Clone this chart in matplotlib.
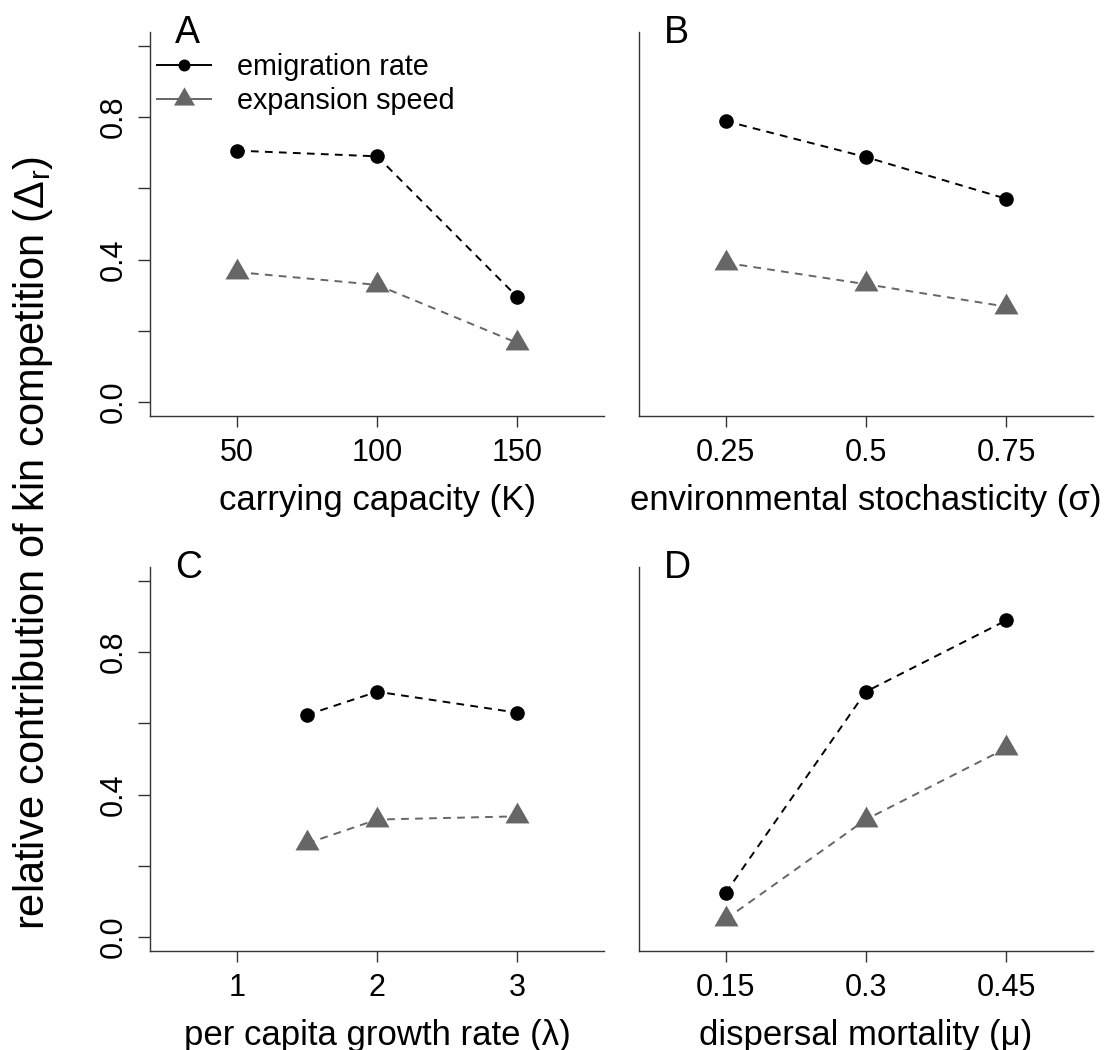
import matplotlib
matplotlib.use('Agg')
import matplotlib.pyplot as plt
from matplotlib.lines import Line2D

plt.rcParams['font.family'] = ['Liberation Sans', 'DejaVu Sans']
plt.rcParams['mathtext.fontset'] = 'custom'
plt.rcParams['mathtext.rm'] = 'Liberation Sans'
plt.rcParams['mathtext.it'] = 'Liberation Sans:italic'
plt.rcParams['mathtext.sf'] = 'Liberation Sans'

# ---- data ----
K_vals = [50, 100, 150]
K_emig = [0.706, 0.690, 0.295]
K_exp = [0.365, 0.329, 0.166]

sigma_vals = [0.25, 0.5, 0.75]
sigma_emig = [0.789, 0.688, 0.571]
sigma_exp = [0.391, 0.331, 0.268]

lambda_vals = [1.5, 2, 3]
lambda_emig = [0.624, 0.689, 0.630]
lambda_exp = [0.263, 0.330, 0.339]

mu_vals = [0.15, 0.3, 0.45]
mu_emig = [0.124, 0.689, 0.889]
mu_exp = [0.050, 0.330, 0.530]

panel_letters = ['A', 'B', 'C', 'D']
x_labels = ['carrying capacity (K)', 'environmental stochasticity (σ)',
            'per capita growth rate (λ)', 'dispersal mortality (μ)']
x_ticks = [[50, 100, 150], [0.25, 0.5, 0.75], [1, 2, 3], [0.15, 0.3, 0.45]]
x_ticklabels = [['50', '100', '150'], ['0.25', '0.5', '0.75'],
                ['1', '2', '3'], ['0.15', '0.3', '0.45']]
y_major = [0.0, 0.4, 0.8]
y_major_labels = ['0.0', '0.4', '0.8']
y_minor = [0.2, 0.6, 1.0]
series_names = ['emigration rate', 'expansion speed']
y_label = r'relative contribution of kin competition ($\Delta_{\mathrm{r}}$)'

panels = [(K_vals, K_emig, K_exp), (sigma_vals, sigma_emig, sigma_exp),
          (lambda_vals, lambda_emig, lambda_exp), (mu_vals, mu_emig, mu_exp)]
x_lims = [(19, 181), (0.095, 0.905), (0.38, 3.62), (0.057, 0.543)]

# ---- style ----
W, H = 1106, 1050
fig = plt.figure(figsize=(W / 100, H / 100), dpi=100)
PX = 0.72  # points per pixel at dpi 100

grey = '#666666'
axcol = '#333333'
tri = [(0, 1), (-0.8660254, -0.5), (0.8660254, -0.5), (0, 1)]

lefts = [150, 638.7, 150, 638.7]
tops = [31.7, 31.7, 566.7, 566.7]
aw, ah = 454.3, 384.6

for i, (xv, emig, exp_) in enumerate(panels):
    ax = fig.add_axes([lefts[i] / W, 1 - (tops[i] + ah) / H, aw / W, ah / H])
    ax.plot(xv, emig, color='black', lw=1.4, dashes=(4.0, 3.2),
            marker='o', ms=10.5, mfc='black', mec='black', mew=0, zorder=3)
    ax.plot(xv, exp_, color=grey, lw=1.4, dashes=(4.0, 3.2),
            marker=tri, ms=20.0, mfc=grey, mec=grey, mew=0, zorder=3)
    ax.set_xlim(*x_lims[i])
    ax.set_ylim(-0.04, 1.04)
    for s in ['top', 'right']:
        ax.spines[s].set_visible(False)
    for s in ['left', 'bottom']:
        ax.spines[s].set_color(axcol)
        ax.spines[s].set_linewidth(1.0)
    ax.set_xticks(x_ticks[i])
    ax.set_xticklabels(x_ticklabels[i], fontsize=22)
    ax.tick_params(axis='x', which='both', length=8.0, width=1.0, color=axcol, pad=7.5)
    if i in (0, 2):
        ax.set_yticks(y_major)
        ax.set_yticklabels(y_major_labels, fontsize=22, rotation=90, va='center')
        ax.set_yticks(y_minor, minor=True)
        ax.tick_params(axis='y', which='both', length=8.6, width=1.0, color=axcol, pad=7)
    else:
        ax.set_yticks([])
        ax.tick_params(axis='y', which='both', left=False, labelleft=False)
    ax.annotate(x_labels[i], xy=(0.5, 0), xycoords='axes fraction',
                xytext=(0, -84 * PX), textcoords='offset points',
                ha='center', va='center', fontsize=25)
    ax.annotate(panel_letters[i], xy=(0, 1), xycoords='axes fraction',
                xytext=(25 * PX, -11.3 * PX), textcoords='offset points',
                ha='left', va='baseline', fontsize=27)
    if i == 0:
        handles = [Line2D([], [], color='black', lw=1.4, marker='o', ms=8.6,
                          mfc='black', mew=0),
                   Line2D([], [], color=grey, lw=1.4, marker=tri, ms=17.5,
                          mfc=grey, mew=0)]
        ax.legend(handles, series_names, loc='upper left',
                  bbox_to_anchor=(7.3 / aw, 1 - 21.5 / ah), frameon=False,
                  fontsize=20.7, handlelength=1.86, handletextpad=0.9,
                  labelspacing=0.2, borderpad=0, borderaxespad=0)

fig.text(33 / W, 1 - 543 / H, y_label, rotation=90, ha='center', va='center',
         fontsize=30)

fig.savefig('out.png', dpi=100)
